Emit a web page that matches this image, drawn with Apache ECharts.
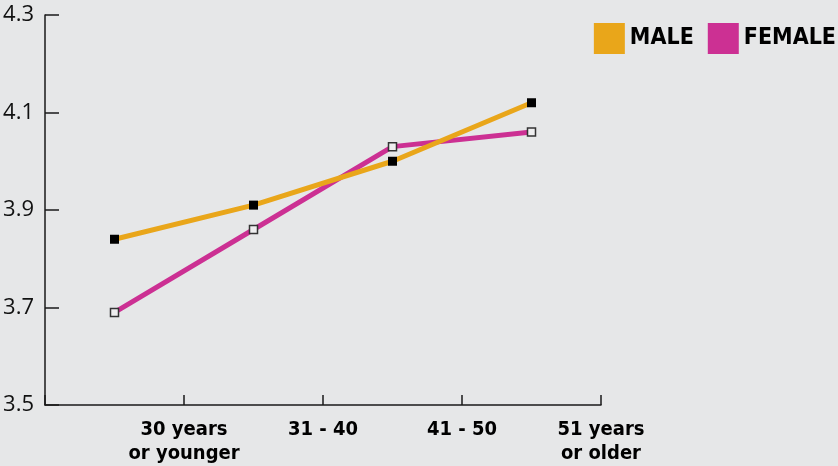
<!DOCTYPE html>
<html>
<head>
<meta charset="utf-8">
<script src="https://cdn.jsdelivr.net/npm/echarts@6/dist/echarts.min.js"></script>
<style>
  html, body { margin: 0; padding: 0; background: #e6e7e8; }
  #chart { width: 838px; height: 466px; }
</style>
</head>
<body>
<div id="chart"></div>
<script>
// Age groups (one band per group) and the text printed under the axis
const categories = ['30 years or younger', '31 - 40', '41 - 50', '51 years or older'];
const ageLabels = ['30 years\nor younger', '31 - 40', '41 - 50', '51 years\nor older'];

// Average scores per age group
const maleValues = [3.84, 3.91, 4.00, 4.12];
const femaleValues = [3.69, 3.86, 4.03, 4.06];

// Value axis ticks
const yMin = 3.5, yMax = 4.3, yStep = 0.2;

const ORANGE = '#e9a61a';
const MAGENTA = '#cc3093';
const INK = '#1a1a1a';
const labelFont = '"Liberation Sans Narrow", "DejaVu Sans Condensed", sans-serif';

const chart = echarts.init(document.getElementById('chart'), null, { renderer: 'canvas' });

chart.setOption({
  backgroundColor: '#e6e7e8',
  animation: false,
  grid: { left: 45, right: 237, top: 15, bottom: 58, containLabel: false },
  legend: {
    right: 2,
    top: 23,
    padding: 0,
    orient: 'horizontal',
    icon: 'rect',
    itemWidth: 31,
    itemHeight: 31,
    itemGap: 14,
    textStyle: { fontFamily: labelFont, fontWeight: 'bold', fontSize: 23, color: '#000' },
    data: [
      { name: 'MALE', itemStyle: { color: ORANGE, borderWidth: 0 } },
      { name: 'FEMALE', itemStyle: { color: MAGENTA, borderWidth: 0 } }
    ]
  },
  xAxis: [
    {
      // bands that place the points
      type: 'category',
      data: categories,
      boundaryGap: true,
      show: false
    },
    {
      // visible axis: ticks and labels on the band edges
      type: 'value',
      min: 0,
      max: categories.length,
      interval: 1,
      position: 'bottom',
      axisLine: { show: true, onZero: false, lineStyle: { color: INK, width: 1.5 } },
      axisTick: { show: true, inside: true, length: 10, lineStyle: { color: INK, width: 1.5 } },
      splitLine: { show: false },
      axisLabel: {
        margin: 13,
        fontFamily: labelFont,
        fontWeight: 'bold',
        fontSize: 20,
        lineHeight: 24,
        color: '#000',
        align: 'center',
        formatter: function (v) { return v >= 1 ? ageLabels[v - 1] : ''; }
      }
    }
  ],
  yAxis: {
    type: 'value',
    min: yMin,
    max: yMax,
    interval: yStep,
    axisLine: { show: true, onZero: false, lineStyle: { color: INK, width: 1.5 } },
    axisTick: { show: true, inside: true, length: 14, lineStyle: { color: INK, width: 1.5 } },
    splitLine: { show: false },
    axisLabel: {
      margin: 11,
      fontFamily: '"Open Sans", sans-serif',
      fontSize: 22,
      color: '#111',
      formatter: function (v) { return v.toFixed(1); }
    }
  },
  series: [
    {
      name: 'FEMALE',
      type: 'line',
      xAxisIndex: 0,
      data: femaleValues,
      symbol: 'rect',
      symbolSize: 8,
      lineStyle: { color: MAGENTA, width: 5 },
      itemStyle: { color: '#eeeeef', borderColor: '#333', borderWidth: 1.5 },
      z: 2
    },
    {
      name: 'MALE',
      type: 'line',
      xAxisIndex: 0,
      data: maleValues,
      symbol: 'rect',
      symbolSize: 9,
      lineStyle: { color: ORANGE, width: 5 },
      itemStyle: { color: '#000', borderColor: '#000', borderWidth: 0 },
      z: 3
    }
  ]
});
</script>
</body>
</html>
